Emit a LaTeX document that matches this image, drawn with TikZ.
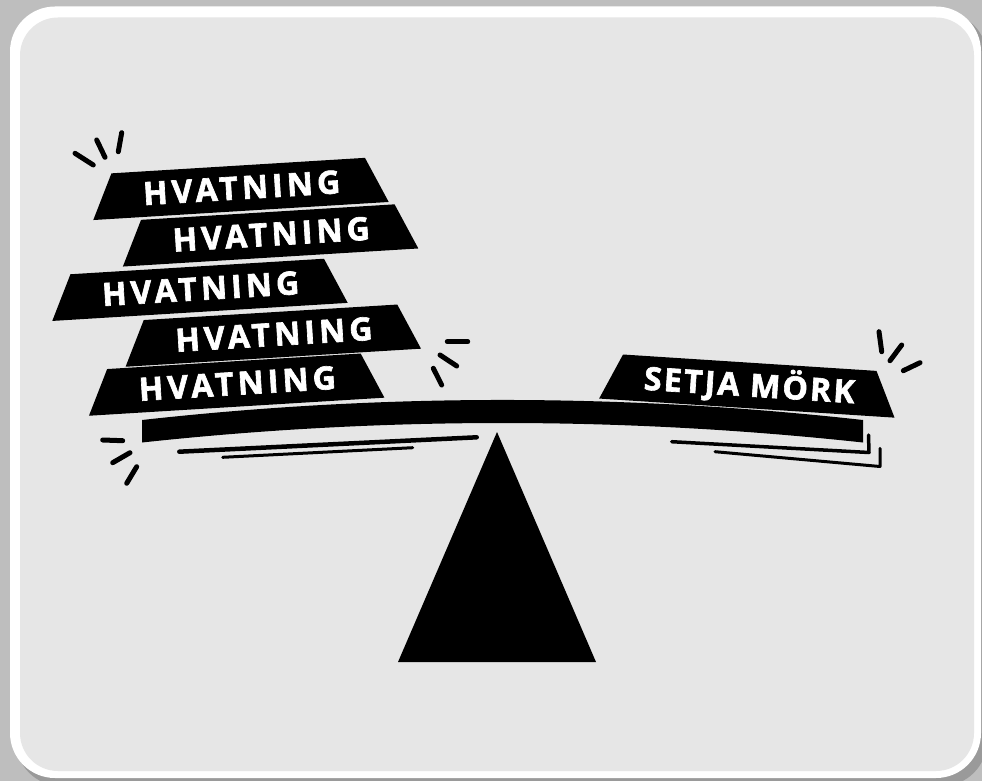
\documentclass[tikz,border=0pt]{standalone}
\usepackage{fontspec}
\setmainfont{Open Sans}
\newfontfamily\blockfont[LetterSpace=13,FakeBold=2]{Open Sans}
\newfontfamily\blockfontb[LetterSpace=7,FakeBold=2]{Open Sans}
\definecolor{outer}{HTML}{BEBEBE}
\definecolor{shadowc}{HTML}{9A9A9A}
\definecolor{panel}{HTML}{E6E6E6}
\tikzset{
  blktext/.style={transform shape, text=white, inner sep=0pt, text height=22pt, text depth=0pt},
  hv/.style={blktext, font=\blockfont\bfseries\fontsize{32}{32}\selectfont},
  sm/.style={blktext, font=\blockfontb\bfseries\fontsize{32}{32}\selectfont},
  spark/.style={line width=5pt, line cap=round},
  speed/.style={line width=#1, line cap=round, line join=round},
}
% #1 node name, #2 centre, #3 angle, #4 text style, #5 text
\newcommand\myblock[5]{%
  \begin{scope}[shift={#2}, rotate=#3]
    \fill[black] (-127,-22.75) -- (127,-22.75) -- (148,22.75) -- (-148,22.75) -- cycle;
    \node[#4] (#1) at (0,0) {#5};
  \end{scope}}
\begin{document}
\begin{tikzpicture}[x=1pt,y=-1pt]
\useasboundingbox (0,0) rectangle (982,781);
% frame
\fill[outer] (0,0) rectangle (982,781);
\fill[shadowc, rounded corners=45pt] (16,12) rectangle (987,786);
\fill[white, rounded corners=45pt] (10,6.5) rectangle (981,778);
\fill[panel, rounded corners=38pt] (20,17.5) rectangle (974,771);
% beam
\fill[black] (142,420) .. controls (382.3,393.3) and (622.7,393.3) .. (863,420) -- (863,442.5)
  .. controls (622.7,416.5) and (382.3,416.5) .. (142,442.5) -- cycle;
% fulcrum
\fill[black] (497,432) -- (596,662) -- (398,662) -- cycle;
% blocks
\myblock{b1}{(239.6,188.3)}{3.5}{hv}{HVATNING\kern-0.13em}
\myblock{b2}{(269.2,234.8)}{3.5}{hv}{HVATNING\kern-0.13em}
\myblock{b3}{(198.6,289.2)}{3.5}{hv}{HVATNING\kern-0.13em}
\myblock{b4}{(271.9,335.0)}{3.5}{hv}{HVATNING\kern-0.13em}
\myblock{b5}{(235.3,384.0)}{3.5}{hv}{HVATNING\kern-0.13em}
\myblock{s1}{(748.3,385.4)}{-3.7}{sm}{SETJA MÖRK\kern-0.07em}
% speed lines
\draw[speed=4.5pt] (179.3,451.7) -- (476.7,437.3);
\draw[speed=3pt] (222.7,457.3) -- (412.7,447.7);
\draw[speed=3.5pt] (671.7,441.7) -- (869,452.5) -- (868.5,435);
\draw[speed=3pt] (715,451.7) -- (880,466.5) -- (880,448.3);
% sparkles
\draw[spark] (75,153.3) -- (93.3,165);
\draw[spark] (96.7,140) -- (105,157.3);
\draw[spark] (121.7,132.7) -- (118.3,151.7);
\draw[spark] (447.3,341.7) -- (467.7,341.7);
\draw[spark] (440,355) -- (456.7,366);
\draw[spark] (433.3,368.3) -- (441.7,385);
\draw[spark] (102.7,440) -- (122.7,440.7);
\draw[spark] (112.7,462.7) -- (130,452.7);
\draw[spark] (126.7,483.3) -- (136.7,466.7);
\draw[spark] (879,331.7) -- (881.7,351.7);
\draw[spark] (890,360.7) -- (901.7,345);
\draw[spark] (903.3,370.7) -- (920,362.7);
\end{tikzpicture}
\end{document}
